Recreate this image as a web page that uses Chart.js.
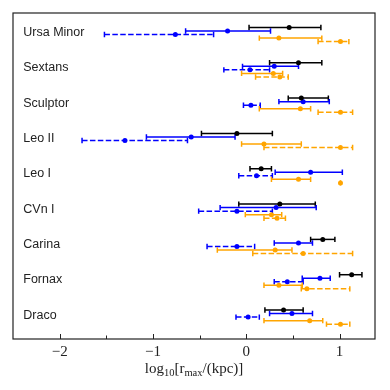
<!DOCTYPE html>
<html>
<head>
<meta charset="utf-8">
<script src="https://cdn.jsdelivr.net/npm/chart.js@4"></script>
<style>
  html, body { margin: 0; padding: 0; background: #fff; }
  #wrap { width: 390px; height: 390px; }
</style>
</head>
<body>
<div id="wrap"><canvas id="rmaxChart"></canvas></div>
<script>
// galaxies, top to bottom
const galaxies = ['Ursa Minor', 'Sextans', 'Sculptor', 'Leo II', 'Leo I', 'CVn I', 'Carina', 'Fornax', 'Draco'];

// black, solid
const blackVal = [0.46, 0.56, 0.59, -0.10, 0.16, 0.36, 0.82, 1.13, 0.40];
const blackLo  = [0.03, 0.25, 0.45, -0.48, 0.04, -0.08, 0.69, 1.00, 0.20];
const blackHi  = [0.80, 0.81, 0.88, 0.28, 0.27, 0.74, 0.95, 1.24, 0.61];

// blue, solid
const blueVal = [-0.20, 0.30, 0.61, -0.59, 0.69, 0.32, 0.56, 0.79, 0.49];
const blueLo  = [-0.65, -0.04, 0.35, -1.07, 0.31, -0.28, 0.30, 0.60, 0.25];
const blueHi  = [0.26, 0.56, 0.89, -0.12, 1.03, 0.75, 0.71, 0.90, 0.71];

// blue, dashed
const blueDashVal = [-0.76, 0.04, 0.05, -1.30, 0.11, -0.10, -0.10, 0.44, 0.02];
const blueDashLo  = [-1.52, -0.24, -0.03, -1.76, -0.08, -0.51, -0.42, 0.30, -0.11];
const blueDashHi  = [-0.35, 0.25, 0.15, -0.63, 0.28, 0.28, 0.09, 0.61, 0.14];

// orange, solid
const orangeVal = [0.35, 0.29, 0.58, 0.19, 0.56, 0.27, 0.31, 0.35, 0.68];
const orangeLo  = [0.14, -0.05, 0.14, -0.05, 0.27, -0.01, -0.31, 0.19, 0.19];
const orangeHi  = [0.81, 0.39, 0.69, 0.59, 0.69, 0.38, 0.49, 0.60, 0.82];

// orange, dashed
const orangeDashVal = [1.01, 0.36, 1.01, 1.01, 1.01, 0.33, 0.61, 0.65, 1.01];
const orangeDashLo  = [0.77, 0.10, 0.77, 0.19, 1.01, 0.19, 0.07, 0.59, 0.86];
const orangeDashHi  = [1.10, 0.45, 1.14, 1.14, 1.01, 0.42, 1.14, 1.11, 1.11];

const majorTicks = [-2, -1, 0, 1];
const minorTicks = [-1.5, -0.5, 0.5];

const series = [
  { val: blackVal, lo: blackLo, hi: blackHi, color: '#000000', dash: [], off: 0 },
  { val: blueVal, lo: blueLo, hi: blueHi, color: '#0000ff', dash: [], off: 0.1 },
  { val: blueDashVal, lo: blueDashLo, hi: blueDashHi, color: '#0000ff', dash: [5.5, 2.4], off: 0.2 },
  { val: orangeVal, lo: orangeLo, hi: orangeHi, color: '#ffa500', dash: [], off: 0.3 },
  { val: orangeDashVal, lo: orangeDashLo, hi: orangeDashHi, color: '#ffa500', dash: [5.5, 2.4], off: 0.4 }
];

const datasets = series.map(s => ({
  data: s.val.map((v, i) => ({ x: v, y: i + s.off, lo: s.lo[i], hi: s.hi[i] })),
  backgroundColor: s.color,
  borderColor: s.color,
  pointRadius: 2.5,
  pointBorderWidth: 0,
  dash: s.dash
}));

// horizontal error bars with caps
const errorBars = {
  id: 'errorBars',
  beforeDatasetsDraw(chart) {
    const { ctx, scales: { x, y } } = chart;
    ctx.save();
    chart.data.datasets.forEach(ds => {
      ctx.strokeStyle = ds.borderColor;
      ctx.lineWidth = 1.5;
      ds.data.forEach(p => {
        const yp = y.getPixelForValue(p.y);
        const xl = x.getPixelForValue(p.lo);
        const xh = x.getPixelForValue(p.hi);
        ctx.setLineDash(ds.dash);
        ctx.beginPath();
        ctx.moveTo(xl, yp);
        ctx.lineTo(xh, yp);
        ctx.stroke();
        ctx.setLineDash([]);
        ctx.beginPath();
        ctx.moveTo(xl, yp - 2.7);
        ctx.lineTo(xl, yp + 2.7);
        ctx.moveTo(xh, yp - 2.7);
        ctx.lineTo(xh, yp + 2.7);
        ctx.stroke();
      });
    });
    ctx.restore();
  }
};

// frame, inward ticks, galaxy names, axis title
const decorations = {
  id: 'decorations',
  afterDraw(chart) {
    const { ctx, chartArea: a, scales: { x, y } } = chart;
    ctx.save();
    ctx.strokeStyle = '#222';
    ctx.lineWidth = 1.2;
    ctx.strokeRect(a.left, a.top, a.right - a.left, a.bottom - a.top);

    ctx.lineWidth = 1;
    ctx.beginPath();
    majorTicks.forEach(t => {
      const xp = Math.round(x.getPixelForValue(t)) + 0.5;
      ctx.moveTo(xp, a.bottom);
      ctx.lineTo(xp, a.bottom - 5);
    });
    minorTicks.forEach(t => {
      const xp = Math.round(x.getPixelForValue(t)) + 0.5;
      ctx.moveTo(xp, a.bottom);
      ctx.lineTo(xp, a.bottom - 3.5);
    });
    ctx.stroke();

    ctx.fillStyle = '#222';
    ctx.font = '12.5px "Liberation Sans", sans-serif';
    ctx.textBaseline = 'alphabetic';
    ctx.textAlign = 'left';
    galaxies.forEach((g, i) => {
      ctx.fillText(g, x.getPixelForValue(-2.39), y.getPixelForValue(i + 0.24));
    });

    // log10[rmax/(kpc)]
    const parts = [
      ['log', false], ['10', true], ['[r', false], ['max', true], ['/(kpc)]', false]
    ];
    const big = '15px "Liberation Serif", serif';
    const small = '10.5px "Liberation Serif", serif';
    let w = 0;
    parts.forEach(([t, sub]) => { ctx.font = sub ? small : big; w += ctx.measureText(t).width; });
    let xp = (a.left + a.right) / 2 - w / 2;
    const base = 373;
    parts.forEach(([t, sub]) => {
      ctx.font = sub ? small : big;
      ctx.fillText(t, xp, sub ? base + 3 : base);
      xp += ctx.measureText(t).width;
    });
    ctx.restore();
  }
};

new Chart(document.getElementById('rmaxChart'), {
  type: 'scatter',
  data: { datasets },
  options: {
    responsive: true,
    maintainAspectRatio: false,
    animation: false,
    layout: { padding: { left: 13, right: 15, top: 13, bottom: 25 } },
    plugins: { legend: { display: false }, tooltip: { enabled: false } },
    scales: {
      x: {
        type: 'linear',
        min: -2.5,
        max: 1.38,
        afterBuildTicks: axis => { axis.ticks = majorTicks.map(v => ({ value: v })); },
        grid: { display: false, drawTicks: false },
        border: { display: false },
        ticks: {
          padding: 4,
          color: '#222',
          font: { family: '"Liberation Serif", serif', size: 15 },
          callback: v => (v < 0 ? '\u2212' + Math.abs(v) : String(v))
        }
      },
      y: {
        type: 'linear',
        display: false,
        reverse: true,
        min: -0.41,
        max: 8.82
      }
    }
  },
  plugins: [errorBars, decorations]
});
</script>
</body>
</html>
